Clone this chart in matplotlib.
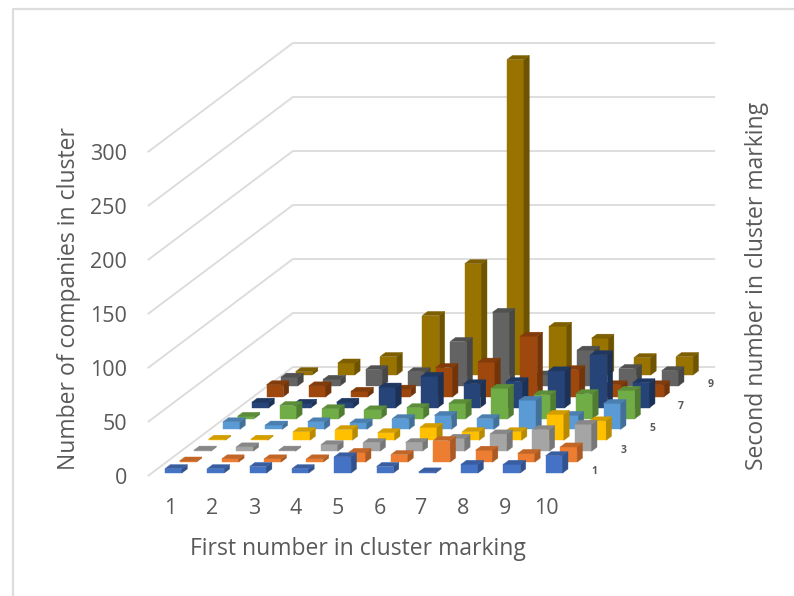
import numpy as np
import matplotlib
matplotlib.use("Agg")
import matplotlib.pyplot as plt
from matplotlib.patches import Polygon

plt.rcParams['font.family'] = ['Open Sans', 'DejaVu Sans']

# first number in cluster marking (columns)
first_labels = ['1', '2', '3', '4', '5', '6', '7', '8', '9', '10']
# second number in cluster marking: only every other one is labelled
second_labels = ['1', '3', '5', '7', '9']
z_ticks = [0, 50, 100, 150, 200, 250, 300]

row_1 = [4, 4, 6, 4, 15, 6, 1, 8, 8, 16]
row_2 = [1, 3, 3, 3, 9, 7, 20, 11, 8, 14]
row_3 = [1, 4, 1, 6, 8, 8, 12, 16, 20, 25]
row_4 = [1, 1, 8, 10, 7, 12, 8, 8, 24, 18]
row_5 = [7, 4, 7, 6, 10, 13, 10, 27, 13, 24]
row_6 = [2, 12, 9, 8, 10, 14, 28, 22, 23, 26]
row_7 = [5, 4, 5, 19, 29, 22, 24, 34, 49, 23]
row_8 = [11, 10, 5, 7, 27, 32, 56, 25, 11, 11]
row_9 = [8, 6, 15, 13, 41, 68, 10, 33, 16, 14]
row_10 = [3, 11, 17, 55, 103, 292, 45, 34, 16, 17]
rows = [row_1, row_2, row_3, row_4, row_5, row_6, row_7, row_8, row_9, row_10]

colors = ['#4472C4', '#ED7D31', '#A5A5A5', '#FFC000', '#5B9BD5',
          '#70AD47', '#264478', '#9E480E', '#636363', '#997300']


# oblique projection used by the 3D column chart, result is in pixels
def proj(c, r, z):
    return (165 + 42.3 * c + 14.5 * r, 473 - 10.9 * r - 1.08 * z)


def shade(col, f):
    return tuple(v * f for v in matplotlib.colors.to_rgb(col))


def draw_bar(ax, c, r, h, col):
    w, d = 0.40, 0.37
    front = [proj(c, r, 0), proj(c + w, r, 0), proj(c + w, r, h), proj(c, r, h)]
    side = [proj(c + w, r, 0), proj(c + w, r + d, 0), proj(c + w, r + d, h), proj(c + w, r, h)]
    top = [proj(c, r, h), proj(c + w, r, h), proj(c + w, r + d, h), proj(c, r + d, h)]
    ax.add_patch(Polygon(front, fc=col, ec=col, lw=0.3, zorder=3))
    ax.add_patch(Polygon(side, fc=shade(col, 0.72), ec=shade(col, 0.72), lw=0.3, zorder=3))
    ax.add_patch(Polygon(top, fc=shade(col, 0.82), ec=shade(col, 0.82), lw=0.3, zorder=3))


fig = plt.figure(figsize=(7.94, 5.96), dpi=100)
ax = fig.add_axes([0, 0, 1, 1])
ax.set_xlim(0, 794)
ax.set_ylim(596, 0)
ax.axis('off')

# chart frame
ax.plot([12.5, 12.5, 794], [596, 9, 9], color='#DDDDDD', lw=1.6)

# gridlines on side wall and back wall
c0, c1, r0, r1 = -0.31, 9.65, -0.23, 9.72
for t in z_ticks:
    pts = [proj(c0, r0, t), proj(c0, r1, t), proj(c1, r1, t)]
    ax.plot([p[0] for p in pts], [p[1] for p in pts], color='#DDDDDD', lw=1.4, zorder=1)
    ax.text(127, proj(c0, r0, t)[1] + 2.5, str(t), ha='right', va='center', fontsize=15.5, color='#595959')

# back row first so the front rows cover it
for r in range(len(rows) - 1, -1, -1):
    for c, h in enumerate(rows[r]):
        draw_bar(ax, c, r, h, colors[r])

for c, lab in enumerate(first_labels):
    ax.text(170.5 + 41.8 * c, 508.5, lab, ha='center', va='center', fontsize=15.5, color='#595959')

for i, lab in enumerate(second_labels):
    px, py = proj(9.65, 2 * i, 0)
    ax.text(px + 21, py - 1, lab, ha='center', va='center', fontsize=7.5, fontweight='bold', color='#595959')

ax.text(358, 549, 'First number in cluster marking', ha='center', va='center', fontsize=16.5, color='#595959')
ax.text(69, 299, 'Number of companies in cluster', ha='center', va='center', rotation=90, fontsize=16.5, color='#595959')
ax.text(757, 286, 'Second number in cluster marking', ha='center', va='center', rotation=90, fontsize=16.5, color='#595959')

fig.savefig('out.png', dpi=100)
